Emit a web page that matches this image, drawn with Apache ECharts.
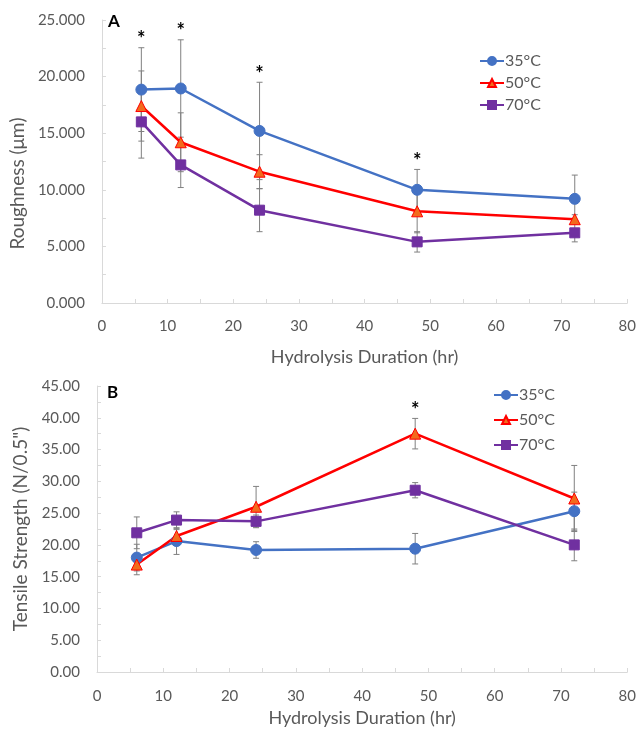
<!DOCTYPE html>
<html>
<head>
<meta charset="utf-8">
<script src="https://cdn.jsdelivr.net/npm/echarts@6/dist/echarts.min.js"></script>
<style>
  html, body { margin: 0; background: #fff; }
  #main { width: 639px; height: 730px; }
</style>
</head>
<body>
<div id="main"></div>
<script>
// hydrolysis time points (hr)
const hours = [6, 12, 24, 48, 72];
const legendNames = ['35°C', '50°C', '70°C'];

// A: roughness (µm), mean and error
const rough35 = [18.85, 18.95, 15.2, 10.0, 9.2];
const rough35Err = [3.7, 4.3, 4.3, 1.8, 2.1];
const rough50 = [17.4, 14.2, 11.6, 8.1, 7.4];
const rough50Err = [3.1, 2.6, 1.5, 1.9, 0.4];
const rough70 = [16.0, 12.2, 8.2, 5.4, 6.2];
const rough70Err = [3.2, 2.0, 1.9, 0.9, 0.8];
const roughStars = [6, 12, 24, 48];

// B: tensile strength (N/0.5"), mean and error
const tensile35 = [18.0, 20.6, 19.2, 19.4, 25.3];
const tensile35Err = [2.1, 2.1, 1.3, 2.4, 3.0];
const tensile50 = [16.9, 21.4, 26.0, 37.5, 27.3];
const tensile50Err = [1.6, 1.0, 3.2, 2.4, 5.2];
const tensile70 = [21.9, 23.9, 23.7, 28.6, 20.0];
const tensile70Err = [2.5, 1.3, 1.0, 1.2, 2.5];
const tensileStars = [48];

const FONT = 'Lato';
const GRAY = '#595959';
const colors = ['#4472C4', '#FF0000', '#7030A0'];
const symbols = ['circle', 'triangle', 'rect'];
const symbolSizes = [11, 11, 10];
const markerFill = ['#4472C4', '#F26B1D', '#7030A0'];

function lineSeries(idx, i, vals) {
  return {
    name: legendNames[i],
    type: 'line',
    xAxisIndex: idx, yAxisIndex: idx,
    data: hours.map((h, k) => [h, vals[k]]),
    symbol: symbols[i],
    symbolSize: symbolSizes[i],
    color: colors[i],
    lineStyle: { color: colors[i], width: 2.5 },
    itemStyle: { color: markerFill[i], borderColor: colors[i], borderWidth: 1 },
    z: 3
  };
}

function errorSeries(idx, vals, errs) {
  return {
    type: 'custom',
    xAxisIndex: idx, yAxisIndex: idx,
    silent: true,
    z: 1,
    encode: { x: 0, y: [1, 2] },
    data: hours.map((h, k) => [h, vals[k] - errs[k], vals[k] + errs[k]]),
    renderItem: function (params, api) {
      const lo = api.coord([api.value(0), api.value(1)]);
      const hi = api.coord([api.value(0), api.value(2)]);
      const w = 3;
      const style = { stroke: '#808080', lineWidth: 1 };
      return {
        type: 'group',
        children: [
          { type: 'line', shape: { x1: hi[0], y1: hi[1], x2: lo[0], y2: lo[1] }, style: style },
          { type: 'line', shape: { x1: hi[0] - w, y1: hi[1], x2: hi[0] + w, y2: hi[1] }, style: style },
          { type: 'line', shape: { x1: lo[0] - w, y1: lo[1], x2: lo[0] + w, y2: lo[1] }, style: style }
        ]
      };
    }
  };
}

// asterisk sits above the tallest error bar at that hour
function starSeries(idx, stars, groups) {
  const data = stars.map(h => {
    const k = hours.indexOf(h);
    const top = Math.max.apply(null, groups.map(g => g[0][k] + g[1][k]));
    return [h, top];
  });
  return {
    type: 'custom',
    xAxisIndex: idx, yAxisIndex: idx,
    silent: true,
    z: 4,
    data: data,
    renderItem: function (params, api) {
      const p = api.coord([api.value(0), api.value(1)]);
      return {
        type: 'text',
        x: p[0], y: p[1] - 8,
        style: { text: '*', fill: '#000', font: 'bold 20px ' + FONT, align: 'center', verticalAlign: 'middle' }
      };
    }
  };
}

function xAxis(idx, margin, nameGap) {
  return {
    type: 'value', gridIndex: idx,
    min: 0, max: 80, interval: 5,
    name: 'Hydrolysis Duration (hr)',
    nameLocation: 'middle', nameGap: nameGap,
    nameTextStyle: { fontFamily: FONT, fontSize: 18, color: GRAY },
    axisLine: { lineStyle: { color: '#D9D9D9', width: 1 } },
    axisTick: { inside: true, length: 4, lineStyle: { color: '#D9D9D9' } },
    axisLabel: {
      margin: margin, fontFamily: FONT, fontSize: 15, color: GRAY,
      formatter: v => (v % 10 === 0 ? String(v) : '')
    },
    splitLine: { show: false }
  };
}

function yAxis(idx, max, digits, name, nameGap, shift) {
  return {
    type: 'value', gridIndex: idx,
    min: 0, max: max, interval: 2.5,
    name: name,
    nameLocation: 'middle', nameGap: nameGap,
    nameTextStyle: { fontFamily: FONT, fontSize: 19, color: GRAY, padding: [0, shift, 0, 0] },
    axisLine: { show: true, lineStyle: { color: '#D9D9D9', width: 1 } },
    axisTick: { show: true, inside: true, length: 4, lineStyle: { color: '#D9D9D9' } },
    axisLabel: {
      margin: 17, fontFamily: FONT, fontSize: 15, color: GRAY,
      formatter: v => (Math.abs(v % 5) < 1e-6 ? v.toFixed(digits) : '')
    },
    splitLine: { show: false }
  };
}

function legend(left, top, gap) {
  return {
    orient: 'vertical', left: left, top: top,
    itemGap: gap, itemWidth: 24, itemHeight: 10,
    data: legendNames,
    textStyle: { fontFamily: FONT, fontSize: 16, color: GRAY, padding: [0, 0, 0, -4] },
    selectedMode: false
  };
}

const chart = echarts.init(document.getElementById('main'));
chart.setOption({
  animation: false,
  backgroundColor: '#fff',
  title: [
    { text: 'A', left: 103, top: 8, textStyle: { fontFamily: FONT, fontSize: 17, fontWeight: 'bold', color: '#000' } },
    { text: 'B', left: 102, top: 379, textStyle: { fontFamily: FONT, fontSize: 17, fontWeight: 'bold', color: '#000' } }
  ],
  legend: [legend(474, 48, 6), legend(488, 382, 9)],
  grid: [
    { left: 99, right: 11, top: 20, height: 283 },
    { left: 97, right: 9, top: 386, height: 286 }
  ],
  xAxis: [xAxis(0, 16, 45), xAxis(1, 17, 37)],
  yAxis: [
    yAxis(0, 25, 3, 'Roughness (μm)', 67, 44),
    yAxis(1, 45, 2, 'Tensile Strength (N/0.5")', 66, 0)
  ],
  series: [
    errorSeries(0, rough35, rough35Err),
    errorSeries(0, rough50, rough50Err),
    errorSeries(0, rough70, rough70Err),
    lineSeries(0, 0, rough35),
    lineSeries(0, 1, rough50),
    lineSeries(0, 2, rough70),
    starSeries(0, roughStars, [[rough35, rough35Err], [rough50, rough50Err], [rough70, rough70Err]]),
    errorSeries(1, tensile35, tensile35Err),
    errorSeries(1, tensile50, tensile50Err),
    errorSeries(1, tensile70, tensile70Err),
    lineSeries(1, 0, tensile35),
    lineSeries(1, 1, tensile50),
    lineSeries(1, 2, tensile70),
    starSeries(1, tensileStars, [[tensile35, tensile35Err], [tensile50, tensile50Err], [tensile70, tensile70Err]])
  ]
});
</script>
</body>
</html>
